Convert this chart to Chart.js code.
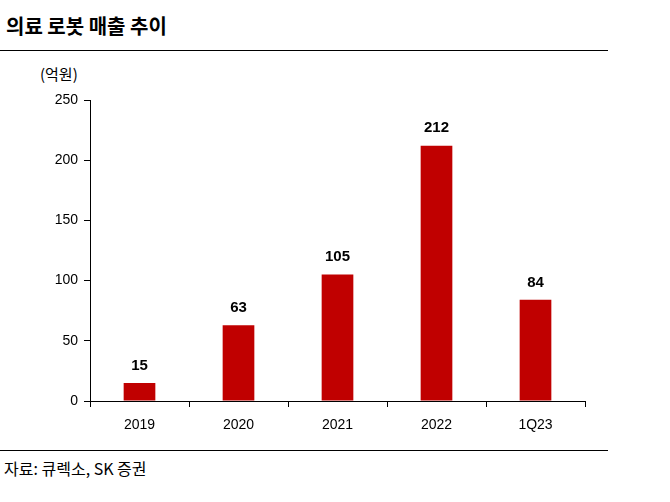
<!DOCTYPE html>
<html><head><meta charset="utf-8">
<script src="https://cdn.jsdelivr.net/npm/chart.js@4"></script>
<style>
body{margin:0;width:670px;height:502px;background:#fff;position:relative;font-family:"Noto Sans CJK KR","Noto Sans",sans-serif;overflow:hidden}
#t{position:absolute;left:6px;top:11px;font-size:20px;font-weight:bold;color:#000}
#l1{position:absolute;left:0;top:50px;width:608px;height:1px;background:#000}
#u{position:absolute;left:40px;top:63px;font-size:15px;color:#000}
#l2{position:absolute;left:0;top:450px;width:608px;height:1px;background:#000}
#s{position:absolute;left:4px;top:456px;font-size:16px;color:#000}
#c{position:absolute;left:0;top:85px;width:610px;height:350px}
</style></head><body>
<div id="t">의료 로봇 매출 추이</div><div id="l1"></div>
<div id="u">(억원)</div>
<div id="c"><canvas id="cv"></canvas></div>
<div id="l2"></div><div id="s">자료: 큐렉소, SK 증권</div>
<script>
const categories=["2019","2020","2021","2022","1Q23"];
const sales=[15,63,105,212,84];
const labelPlugin={id:'lbl',afterDatasetsDraw(ch){const ctx=ch.ctx;const m=ch.getDatasetMeta(0);ctx.save();ctx.font='bold 15px "Liberation Sans",Arial';ctx.fillStyle='#000';ctx.textAlign='center';ctx.textBaseline='bottom';m.data.forEach((b,i)=>ctx.fillText(sales[i],b.x,b.y-10));ctx.restore();}};
new Chart(document.getElementById('cv'),{type:'bar',
data:{labels:categories,datasets:[{data:sales,backgroundColor:'#C00000',barPercentage:0.32,categoryPercentage:1}]},
options:{responsive:true,maintainAspectRatio:false,animation:false,
layout:{padding:{top:15,right:25,left:0,bottom:0}},
plugins:{legend:{display:false},tooltip:{enabled:false}},
scales:{
x:{grid:{display:true,drawOnChartArea:false,offset:true,color:'#000',tickLength:6},border:{color:'#000'},ticks:{color:'#000',font:{family:'"Liberation Sans",Arial',size:14},padding:10},afterFit(a){a.height=34;}},
y:{min:0,max:250,ticks:{stepSize:50,color:'#000',font:{family:'"Liberation Sans",Arial',size:14},padding:6},grid:{drawOnChartArea:false,color:'#000',tickLength:6},border:{color:'#000'},afterFit(a){a.width=90;}}
}},plugins:[labelPlugin]});
</script></body></html>
